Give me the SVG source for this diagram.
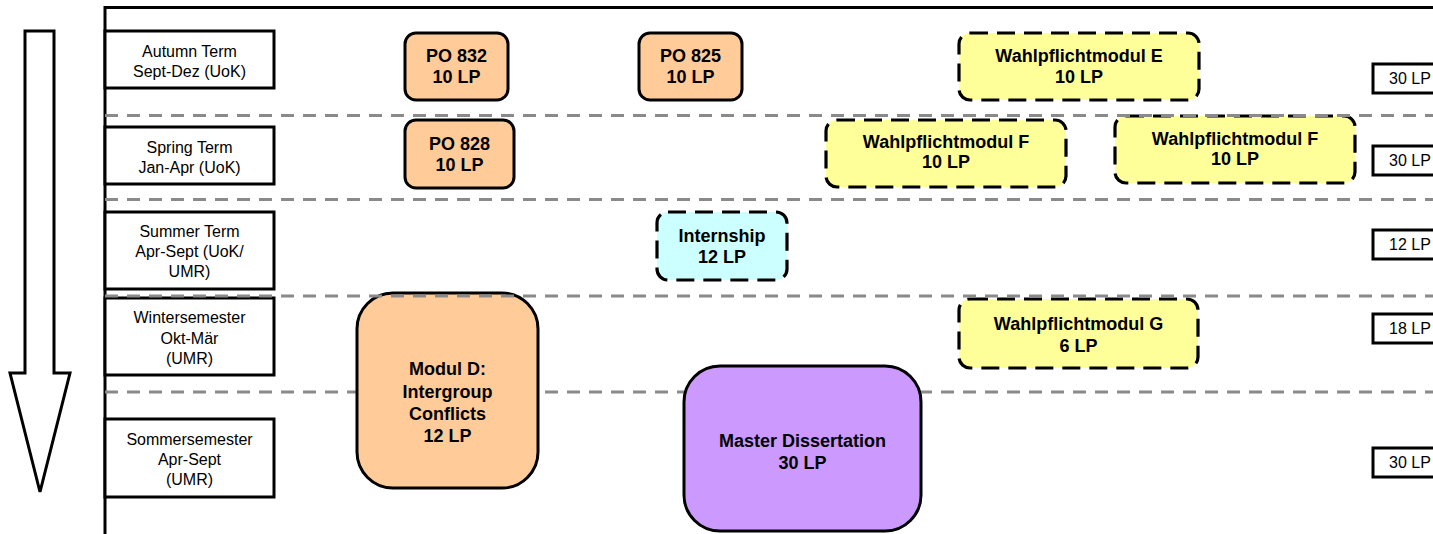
<svg xmlns="http://www.w3.org/2000/svg" width="1433" height="534" viewBox="0 0 1433 534">
<style>
.lbl{fill:#fff;stroke:#000;stroke-width:3}
.lt{font-family:"Liberation Sans",Arial,sans-serif;font-size:16px;fill:#000;text-anchor:middle}
.lp{font-family:"Liberation Sans",Arial,sans-serif;font-size:16px;fill:#000}
.mt{font-family:"Liberation Sans",Arial,sans-serif;font-size:18px;font-weight:bold;fill:#000;text-anchor:middle}
.solid{stroke:#000;stroke-width:3}
.dash{stroke:#000;stroke-width:3.2;stroke-dasharray:18 9}
.orange{fill:#FFCC99}
.yellow{fill:#FFFF99}
.cyan{fill:#CCFFFF}
.purple{fill:#CC99FF}
.sep{stroke:#8a8a8a;stroke-width:3;stroke-dasharray:13 9;fill:none}
</style>
<rect width="1433" height="534" fill="#fff"/>
<g id="frame" fill="none" stroke="#000" stroke-width="3">
<polyline points="105,534 105,7.5 1433,7.5"/>
</g>
<g id="time-arrow">
<polygon points="25,31 54,31 54,373 70,373 40,492 10,373 25,373" fill="#fff" stroke="#000" stroke-width="3" stroke-linejoin="miter"/>
</g>
<g id="separator-4"><line class="sep" x1="105" y1="392" x2="1433" y2="392"/></g>
<g id="label-autumn"><rect class="lbl" x="105" y="31" width="169" height="57"/><text class="lt" x="189.5" y="57">Autumn Term</text><text class="lt" x="189.5" y="77">Sept-Dez (UoK)</text></g>
<g id="label-spring"><rect class="lbl" x="105" y="127" width="169" height="57"/><text class="lt" x="189.5" y="153">Spring Term</text><text class="lt" x="189.5" y="173">Jan-Apr (UoK)</text></g>
<g id="label-summer"><rect class="lbl" x="105" y="212" width="169" height="77"/><text class="lt" x="189.5" y="237">Summer Term</text><text class="lt" x="189.5" y="257">Apr-Sept (UoK/</text><text class="lt" x="189.5" y="277">UMR)</text></g>
<g id="label-winter"><rect class="lbl" x="105" y="298" width="169" height="77"/><text class="lt" x="189.5" y="323">Wintersemester</text><text class="lt" x="189.5" y="344">Okt-Mär</text><text class="lt" x="189.5" y="364">(UMR)</text></g>
<g id="label-sommer"><rect class="lbl" x="105" y="419" width="169" height="78"/><text class="lt" x="189.5" y="445">Sommersemester</text><text class="lt" x="189.5" y="465">Apr-Sept</text><text class="lt" x="189.5" y="485">(UMR)</text></g>
<g id="po832"><rect class="orange solid" x="405" y="33" width="103" height="67" rx="11"/><text class="mt" x="456.5" y="62">PO 832</text><text class="mt" x="456.5" y="83">10 LP</text></g>
<g id="po825"><rect class="orange solid" x="639" y="33" width="103" height="67" rx="11"/><text class="mt" x="690.5" y="62">PO 825</text><text class="mt" x="690.5" y="83">10 LP</text></g>
<g id="po828"><rect class="orange solid" x="405" y="120" width="109" height="68" rx="11"/><text class="mt" x="459.5" y="150">PO 828</text><text class="mt" x="459.5" y="171">10 LP</text></g>
<g id="wpm-e"><rect class="yellow dash" x="959" y="33" width="240" height="67" rx="11"/><text class="mt" x="1079" y="62">Wahlpflichtmodul E</text><text class="mt" x="1079" y="83">10 LP</text></g>
<g id="wpm-f1"><rect class="yellow dash" x="826" y="120" width="240" height="67" rx="11"/><text class="mt" x="946" y="148">Wahlpflichtmodul F</text><text class="mt" x="946" y="168">10 LP</text></g>
<g id="wpm-f2"><rect class="yellow dash" x="1115" y="116" width="240" height="67" rx="11"/><text class="mt" x="1235" y="145">Wahlpflichtmodul F</text><text class="mt" x="1235" y="165">10 LP</text></g>
<g id="internship"><rect class="cyan dash" x="657" y="212" width="130" height="68" rx="11"/><text class="mt" x="722" y="242">Internship</text><text class="mt" x="722" y="263">12 LP</text></g>
<g id="wpm-g"><rect class="yellow dash" x="959" y="299" width="239" height="69" rx="11"/><text class="mt" x="1078.5" y="330">Wahlpflichtmodul G</text><text class="mt" x="1078.5" y="352">6 LP</text></g>
<g id="modul-d"><rect class="orange solid" x="357" y="293" width="181" height="195" rx="36"/><text class="mt" x="447.5" y="375">Modul D:</text><text class="mt" x="447.5" y="398">Intergroup</text><text class="mt" x="447.5" y="420">Conflicts</text><text class="mt" x="447.5" y="442">12 LP</text></g>
<g id="master"><rect class="purple solid" x="684" y="366" width="237" height="165" rx="36"/><text class="mt" x="802.5" y="447">Master Dissertation</text><text class="mt" x="802.5" y="469">30 LP</text></g>
<g id="separators">
<line class="sep" x1="105" y1="115.5" x2="1433" y2="115.5"/>
<line class="sep" x1="105" y1="199.5" x2="1433" y2="199.5"/>
<line class="sep" x1="105" y1="296" x2="1433" y2="296"/>
</g>
<g id="lp-1"><rect class="lbl" x="1373" y="64" width="80" height="29"/><text class="lp" x="1389" y="84">30 LP</text></g>
<g id="lp-2"><rect class="lbl" x="1373" y="146" width="80" height="29"/><text class="lp" x="1389" y="166">30 LP</text></g>
<g id="lp-3"><rect class="lbl" x="1373" y="230" width="80" height="29"/><text class="lp" x="1389" y="250">12 LP</text></g>
<g id="lp-4"><rect class="lbl" x="1373" y="314" width="80" height="29"/><text class="lp" x="1389" y="334">18 LP</text></g>
<g id="lp-5"><rect class="lbl" x="1373" y="448" width="80" height="29"/><text class="lp" x="1389" y="468">30 LP</text></g>
</svg>
